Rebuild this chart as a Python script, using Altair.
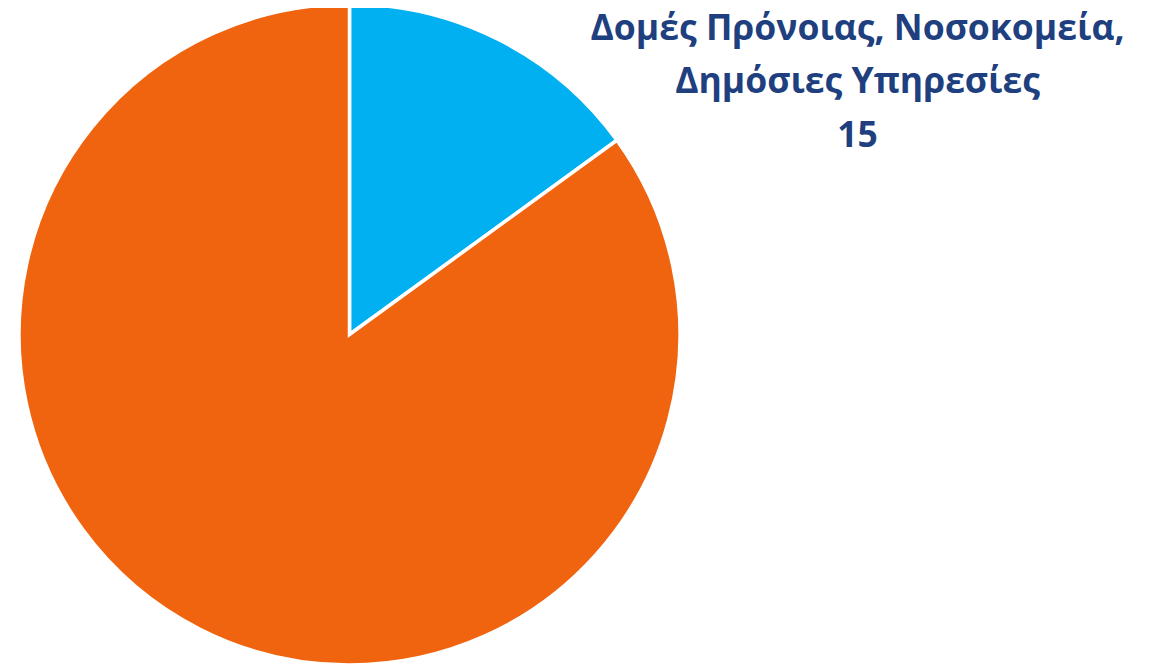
import altair as alt
import pandas as pd

categories = ["Δομές Πρόνοιας, Νοσοκομεία, Δημόσιες Υπηρεσίες", "Άλλο"]
values = [15, 85]
colors = ["#00B0F0", "#F0640F"]
order = [0, 1]

label_lines = ["Δομές Πρόνοιας, Νοσοκομεία,", "Δημόσιες Υπηρεσίες", "15"]

df = pd.DataFrame({"cat": categories, "value": values, "order": order})

W, H = 1141, 658
cx, cy, R = 341.5, 326.5, 330.5

pie = alt.Chart(df).mark_arc(outerRadius=R, stroke="white", strokeWidth=3.5).encode(
    theta=alt.Theta("value:Q", stack=True),
    order=alt.Order("order:Q"),
    color=alt.Color("cat:N", scale=alt.Scale(domain=categories, range=colors), legend=None),
    x=alt.value(cx),
    y=alt.value(cy),
)

ldf = pd.DataFrame({"t": label_lines, "i": [0, 1, 2]})
text = alt.Chart(ldf).mark_text(
    font="Open Sans", fontWeight="bold", fontSize=35.5, color="#203F7F",
    align="center", baseline="alphabetic"
).encode(
    text="t:N",
    x=alt.value(849.5),
    y=alt.Y("i:Q", scale=alt.Scale(domain=[0, 2], range=[31.5, 138.5]), axis=None),
)

chart = alt.layer(pie, text).properties(
    width=W, height=H, padding=0, autosize=alt.AutoSizeParams(type="none")
).configure_view(stroke=None)

chart.save("out.html", embed_options={"renderer": "svg", "actions": False})
